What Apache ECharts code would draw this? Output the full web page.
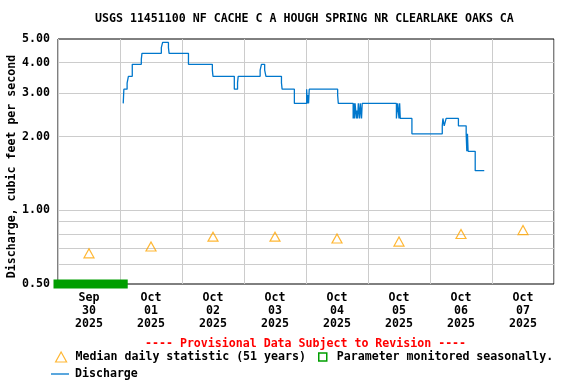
<!DOCTYPE html>
<html>
<head>
<meta charset="utf-8">
<script src="https://cdn.jsdelivr.net/npm/echarts@6/dist/echarts.min.js"></script>
<style>html,body{margin:0;padding:0;background:#fff}#c{width:576px;height:384px}</style>
</head>
<body>
<div id="c"></div>
<script>
// ---- data ----
var dayLabels = ['Sep\n30\n2025','Oct\n01\n2025','Oct\n02\n2025','Oct\n03\n2025','Oct\n04\n2025','Oct\n05\n2025','Oct\n06\n2025','Oct\n07\n2025'];
var yLabelValues = [0.5, 1, 2, 3, 4, 5];
var yGridValues = [0.6, 0.7, 0.8, 0.9, 1, 2, 3, 4];
var medianDays = ['09-30 12:00','10-01 12:00','10-02 12:00','10-03 12:00','10-04 12:00','10-05 12:00','10-06 12:00','10-07 12:00'];
var medianValues = [0.667, 0.711, 0.78, 0.78, 0.767, 0.745, 0.80, 0.83];
var seasonalTimes = ['09-30 00:00', '10-01 01:15'];
var seasonalValues = [0.5, 0.5];
var dischargeTimes = [
 '10-01 01:15','10-01 01:30','10-01 02:45','10-01 03:15','10-01 04:45','10-01 08:15','10-01 08:30',
 '10-01 16:00','10-01 16:30','10-01 18:45','10-01 19:00','10-02 02:30','10-02 11:45','10-02 12:00',
 '10-02 20:15','10-02 21:30','10-02 21:45','10-03 06:15','10-03 06:45','10-03 08:00','10-03 08:30',
 '10-03 14:30','10-03 14:45','10-03 19:30','10-04 00:15','10-04 00:30','10-04 00:45','10-04 01:00',
 '10-04 01:15','10-04 12:15','10-04 12:30','10-04 18:15','10-04 18:30','10-04 18:45','10-04 19:00',
 '10-04 19:30','10-04 19:45','10-04 20:00','10-04 20:15','10-04 20:45','10-04 21:00','10-04 21:30',
 '10-04 21:45','10-05 11:00','10-05 11:30','10-05 12:00','10-05 12:15','10-05 12:30','10-05 17:00',
 '10-06 04:45','10-06 05:00','10-06 05:30','10-06 06:15','10-06 11:00','10-06 14:00','10-06 14:15',
 '10-06 14:30','10-06 14:45','10-06 17:30','10-06 21:00'];
var dischargeValues = [
 2.73,3.12,3.30,3.52,3.94,4.13,4.37,
 4.61,4.84,4.61,4.37,3.94,3.73,3.52,
 3.12,3.31,3.52,3.73,3.94,3.73,3.52,
 3.31,3.12,2.73,3.12,2.73,2.95,2.73,
 3.12,2.95,2.73,2.37,2.73,2.37,2.73,
 2.37,2.55,2.37,2.73,2.37,2.73,2.37,
 2.73,2.37,2.73,2.37,2.73,2.37,2.05,
 2.21,2.37,2.21,2.37,2.21,2.05,1.74,
 2.05,1.74,1.45,1.45];

// ---- helpers ----
function ts(s) {
  var m = +s.slice(0,2), d = +s.slice(3,5), h = +s.slice(6,8), mi = +s.slice(9,11);
  return Date.UTC(2025, m - 1, d, h, mi);
}
function zip(t, v) { return t.map(function (s, i) { return [ts(s), v[i]]; }); }
var DAY = 86400000;
var T0 = Date.UTC(2025, 8, 30);
var FONT = "'DejaVu Sans Mono', monospace";
var FS = 11.6;
var txt = { fontFamily: FONT, fontWeight: 'bold', fontSize: FS, color: '#000' };

var chart = echarts.init(document.getElementById('c'), null, { renderer: 'canvas' });
chart.setOption({
  animation: false,
  backgroundColor: '#fff',
  title: [
    { text: 'USGS 11451100 NF CACHE C A HOUGH SPRING NR CLEARLAKE OAKS CA', left: 95, top: 13, padding: 0,
      textStyle: Object.assign({}, txt, { fontSize: FS }) },
    { text: '---- Provisional Data Subject to Revision ----', left: 145, top: 338, padding: 0,
      textStyle: Object.assign({}, txt, { color: '#ff0000' }) }
  ],
  grid: { left: 58, right: 22, top: 39, bottom: 100, show: true, borderColor: '#000', borderWidth: 1,
    backgroundColor: 'transparent', containLabel: false, outerBoundsMode: 'none' },
  legend: [
    { left: 55, top: 351, padding: 0, selectedMode: false, itemWidth: 11, itemHeight: 10,
      textStyle: Object.assign({}, txt, { padding: [0, 0, 0, 4] }),
      data: [{ name: 'Median daily statistic (51 years)', icon: 'triangle',
               itemStyle: { color: 'rgba(0,0,0,0)', borderColor: '#ffa500', borderWidth: 1.2 } }] },
    { left: 318, top: 351, padding: 0, selectedMode: false, itemWidth: 8, itemHeight: 8,
      textStyle: Object.assign({}, txt, { padding: [0, 0, 0, 5] }),
      data: [{ name: 'Parameter monitored seasonally.', icon: 'rect',
               itemStyle: { color: 'rgba(0,0,0,0)', borderColor: '#009e00', borderWidth: 1.5 } }] },
    { left: 51, top: 368, padding: 0, selectedMode: false, itemWidth: 18, itemHeight: 1.3,
      textStyle: Object.assign({}, txt, { padding: [0, 0, 0, 1] }),
      data: [{ name: 'Discharge', icon: 'rect', itemStyle: { color: '#0077cc' } }] }
  ],
  xAxis: [
    { type: 'value', min: T0, max: T0 + 8 * DAY, interval: DAY,
      axisLine: { show: false }, axisTick: { show: false }, axisLabel: { show: false },
      splitLine: { show: true, lineStyle: { color: '#cccccc', width: 1 } } },
    { type: 'category', data: dayLabels, boundaryGap: true, position: 'bottom',
      axisLine: { show: false }, axisTick: { show: false }, splitLine: { show: false },
      axisLabel: Object.assign({}, txt, { interval: 0, margin: 7, lineHeight: 13 }) }
  ],
  yAxis: {
    type: 'log', logBase: 10, min: 0.5, max: 5,
    axisLine: { show: false },
    axisTick: { show: false, customValues: yGridValues },
    axisLabel: Object.assign({}, txt, { customValues: yLabelValues, margin: 8,
      formatter: function (v) { return (+v).toFixed(2); } }),
    splitLine: { show: true, lineStyle: { color: '#cccccc', width: 1 } },
    name: 'Discharge, cubic feet per second', nameLocation: 'middle', nameRotate: 90, nameGap: 40,
    nameMoveOverlap: false,
    nameTextStyle: Object.assign({}, txt, { padding: [0, 10, 0, 0] })
  },
  series: [
    { name: 'Parameter monitored seasonally.', type: 'line', xAxisIndex: 0, data: zip(seasonalTimes, seasonalValues),
      symbol: 'none', clip: false, z: 5, silent: true,
      lineStyle: { color: '#009e00', width: 9, cap: 'square' }, itemStyle: { color: '#009e00' } },
    { name: 'Median daily statistic (51 years)', type: 'scatter', xAxisIndex: 0, data: zip(medianDays, medianValues),
      symbol: 'triangle', symbolSize: [10, 9], z: 4,
      itemStyle: { color: 'rgba(255,255,255,0)', borderColor: '#ffa500', borderWidth: 1.2 } },
    { name: 'Discharge', type: 'line', xAxisIndex: 0, data: zip(dischargeTimes, dischargeValues),
      step: 'end', symbol: 'none', z: 3,
      lineStyle: { color: '#0077cc', width: 1.3 }, itemStyle: { color: '#0077cc' } }
  ]
});
</script>
</body>
</html>
